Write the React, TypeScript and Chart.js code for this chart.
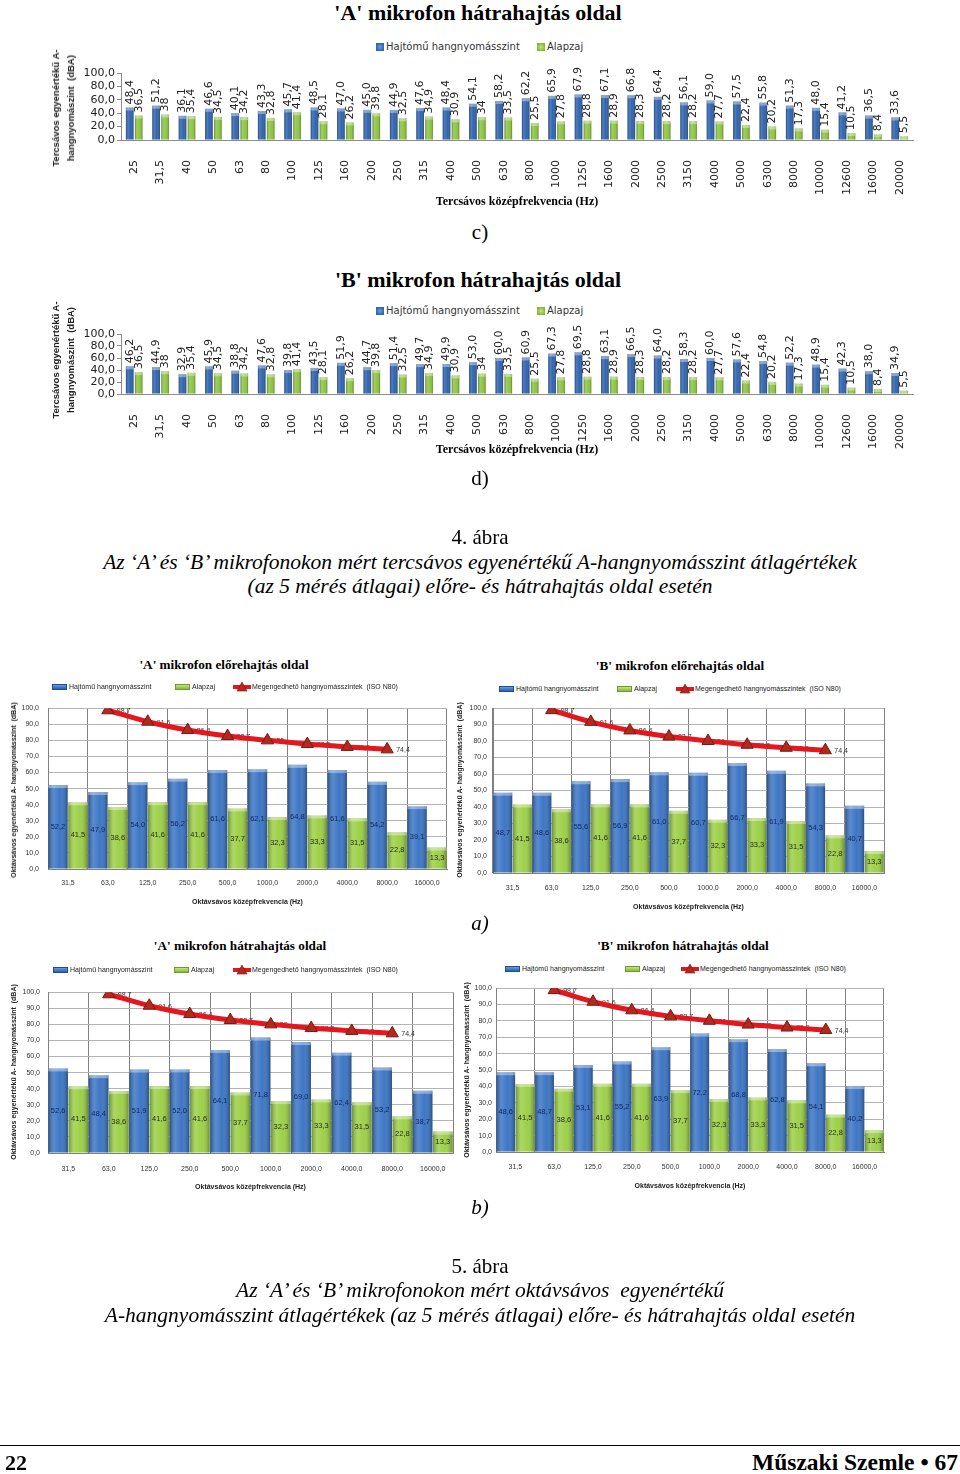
import React, { useEffect, useRef } from "react";
import { Chart, registerables } from "chart.js";

Chart.register(...registerables);

// ---------- data ----------
const thirdOctaveBands = ["25", "31,5", "40", "50", "63", "80", "100", "125", "160", "200", "250", "315", "400", "500", "630", "800", "1000", "1250", "1600", "2000", "2500", "3150", "4000", "5000", "6300", "8000", "10000", "12600", "16000", "20000"];
const thirdAEngine = [48.4, 51.2, 36.1, 46.6, 40.1, 43.3, 45.7, 48.5, 47.0, 45.0, 44.9, 47.6, 48.4, 54.1, 58.2, 62.2, 65.9, 67.9, 67.1, 66.8, 64.4, 56.1, 59.0, 57.5, 55.8, 51.3, 48.0, 41.2, 36.5, 33.6];
const thirdBEngine = [46.2, 44.9, 32.9, 45.9, 38.8, 47.6, 39.8, 43.5, 51.9, 44.7, 51.4, 49.7, 49.9, 53.0, 60.0, 60.9, 67.3, 69.5, 63.1, 66.5, 64.0, 58.3, 60.0, 57.6, 54.8, 52.2, 48.9, 42.3, 38.0, 34.9];
const thirdBackground = [36.5, 38, 35.4, 34.5, 34.2, 32.8, 41.4, 28.1, 26.2, 39.8, 32.5, 34.9, 30.9, 34, 33.5, 25.5, 27.8, 28.8, 28.9, 28.3, 28.2, 28.2, 27.7, 22.4, 20.2, 17.3, 15.4, 10.5, 8.4, 5.5];
const thirdYTicks = [0, 20, 40, 60, 80, 100];

const octaveBands = ["31,5", "63,0", "125,0", "250,0", "500,0", "1000,0", "2000,0", "4000,0", "8000,0", "16000,0"];
const octAFrontEngine = [52.2, 47.9, 54.0, 56.2, 61.6, 62.1, 64.8, 61.6, 54.2, 39.1];
const octBFrontEngine = [48.7, 48.6, 55.6, 56.9, 61.0, 60.7, 66.7, 61.9, 54.3, 40.7];
const octARearEngine = [52.6, 48.4, 51.9, 52.0, 64.1, 71.8, 69.0, 62.4, 53.2, 38.7];
const octBRearEngine = [48.6, 48.7, 53.1, 55.2, 63.9, 72.2, 68.8, 62.8, 54.1, 40.2];
const octaveBackground = [41.5, 38.6, 41.6, 41.6, 37.7, 32.3, 33.3, 31.5, 22.8, 13.3];
const isoN80Limit: (number | null)[] = [null, 98.7, 91.6, 86.4, 82.7, 80, 77.7, 75.9, 74.4, null];
const octaveYTicks = [0, 10, 20, 30, 40, 50, 60, 70, 80, 90, 100];

// ---------- helpers ----------
const SERIF = '"Times New Roman", "Liberation Serif", serif';
const SANS = '"Liberation Sans", Arial, sans-serif';
const VERD = '"DejaVu Sans", Verdana, sans-serif';
const fmt1 = (v: number) => v.toFixed(1).replace(".", ",");
const fmtRaw = (v: number) => String(v).replace(".", ",");

Chart.defaults.font.family = SANS;

function drawLabels(chart: any, below: boolean) {
  const ctx = chart.ctx;
  chart.data.datasets.forEach((ds: any, i: number) => {
    const spec = ds.valueLabels;
    if (!spec || !!spec.below !== below) return;
    const meta = chart.getDatasetMeta(i);
    meta.data.forEach((el: any, j: number) => {
      const v = ds.data[j];
      if (v == null) return;
      const p = el.getProps(["x", "y", "base"], true);
      const text = spec.format(v);
      ctx.save();
      ctx.font = spec.font;
      ctx.fillStyle = spec.color;
      if (spec.mode === "top") {
        ctx.translate(p.x, p.y - (spec.dy ?? 3));
        ctx.rotate(-Math.PI / 2);
        ctx.textAlign = "left";
        ctx.textBaseline = "middle";
        ctx.fillText(text, 0, 0);
      } else if (spec.mode === "center") {
        ctx.textAlign = "center";
        ctx.textBaseline = "middle";
        ctx.fillText(text, p.x, (p.y + p.base) / 2);
      } else {
        ctx.textAlign = "left";
        ctx.textBaseline = "middle";
        ctx.fillText(text, p.x + (spec.dx ?? 9), p.y + (spec.dy ?? 1));
      }
      ctx.restore();
    });
  });
}

const labelPlugin = {
  id: "valueLabels",
  beforeDatasetsDraw(chart: any) {
    drawLabels(chart, true);
  },
  afterDatasetsDraw(chart: any) {
    drawLabels(chart, false);
  },
};

const shadePlugin = {
  id: "barShade",
  afterDatasetDraw(chart: any, args: any) {
    const meta = args.meta;
    if (meta.type !== "bar") return;
    const ctx = chart.ctx;
    meta.data.forEach((el: any) => {
      const { x, y, base, width } = el.getProps(["x", "y", "base", "width"], true);
      const h = base - y;
      if (!(h > 0)) return;
      const l = x - width / 2;
      const g = ctx.createLinearGradient(l, 0, l + width, 0);
      g.addColorStop(0, "rgba(0,0,0,0.30)");
      g.addColorStop(0.28, "rgba(255,255,255,0.16)");
      g.addColorStop(0.6, "rgba(255,255,255,0.02)");
      g.addColorStop(1, "rgba(0,0,0,0.32)");
      ctx.save();
      ctx.fillStyle = g;
      ctx.fillRect(l, y, width, h);
      ctx.fillStyle = "rgba(255,255,255,0.38)";
      ctx.fillRect(l, y, width, Math.min(3, h));
      ctx.restore();
    });
  },
};

function thirdOctaveConfig(engine: number[], xTitlePad: number): any {
  return {
    type: "bar",
    data: {
      labels: thirdOctaveBands,
      datasets: [
        {
          label: "Hajtómű hangnyomásszint",
          data: engine,
          backgroundColor: "#2d62ae",
          categoryPercentage: 0.68,
          barPercentage: 0.85,
          valueLabels: { mode: "top", format: fmt1, font: `11px ${VERD}`, color: "#222", dy: 3 },
        },
        {
          label: "Alapzaj",
          data: thirdBackground,
          backgroundColor: "#8dc540",
          categoryPercentage: 0.68,
          barPercentage: 0.85,
          valueLabels: { mode: "top", format: fmtRaw, font: `11px ${VERD}`, color: "#222", dy: 3 },
        },
      ],
    },
    options: {
      responsive: false,
      animation: false,
      layout: { padding: { top: 11, right: 17, bottom: 0, left: 0 } },
      plugins: { legend: { display: false }, tooltip: { enabled: false }, title: { display: false } },
      scales: {
        x: {
          grid: { display: false },
          border: { display: true, color: "#8c8c8c" },
          ticks: {
            autoSkip: false,
            minRotation: 90,
            maxRotation: 90,
            padding: 12,
            color: "#222",
            font: { family: VERD, size: 11 },
          },
          title: {
            display: true,
            text: "Tercsávos középfrekvencia (Hz)",
            color: "#000",
            font: { family: SERIF, size: 12, weight: "bold" },
            padding: { top: 0, bottom: xTitlePad },
          },
          afterFit: (s: any) => {
            s.height = 74;
          },
        },
        y: {
          min: 0,
          max: 100,
          afterBuildTicks: (s: any) => {
            s.ticks = thirdYTicks.map((v) => ({ value: v }));
          },
          grid: { display: true, drawOnChartArea: false, drawTicks: true, tickLength: 4, color: "#8c8c8c" },
          border: { display: true, color: "#8c8c8c" },
          ticks: {
            autoSkip: false,
            padding: 2,
            color: "#222",
            font: { family: VERD, size: 11 },
            callback: (v: any) => fmt1(Number(v)),
          },
          title: { display: false },
          afterFit: (s: any) => {
            s.width = 81;
          },
        },
      },
    },
    plugins: [shadePlugin, labelPlugin],
  };
}

function octaveConfig(
  engine: number[],
  g: { yWidth: number; yTickPad: number; xTickPad: number; xTitlePad: number; padRight: number }
): any {
  return {
    type: "bar",
    data: {
      labels: octaveBands,
      datasets: [
        {
          type: "line",
          label: "Megengedhető hangnyomásszintek  (ISO N80)",
          data: isoN80Limit,
          order: 0,
          borderColor: "#e3171e",
          borderWidth: 5,
          cubicInterpolationMode: "monotone",
          pointStyle: "triangle",
          pointRadius: 7,
          pointBackgroundColor: "#b3281f",
          pointBorderColor: "#7a1a12",
          pointBorderWidth: 1,
          spanGaps: false,
          valueLabels: { mode: "right", format: fmtRaw, font: `7px ${SANS}`, color: "#333", dx: 9, dy: 1, below: true },
        },
        {
          label: "Hajtómű hangnyomásszint",
          data: engine,
          order: 1,
          backgroundColor: "#3a74c4",
          categoryPercentage: 1,
          barPercentage: 0.97,
          valueLabels: { mode: "center", format: fmt1, font: `7.5px ${SANS}`, color: "#0d2a66" },
        },
        {
          label: "Alapzaj",
          data: octaveBackground,
          order: 1,
          backgroundColor: "#9ccf46",
          categoryPercentage: 1,
          barPercentage: 0.97,
          valueLabels: { mode: "center", format: fmt1, font: `7.5px ${SANS}`, color: "#1f2a12" },
        },
      ],
    },
    options: {
      responsive: false,
      animation: false,
      layout: { padding: { top: 11, right: g.padRight, bottom: 0, left: 0 } },
      plugins: { legend: { display: false }, tooltip: { enabled: false }, title: { display: false } },
      scales: {
        x: {
          grid: { display: true, offset: true, drawTicks: false, color: "#808080" },
          border: { display: true, color: "#808080" },
          ticks: {
            autoSkip: false,
            maxRotation: 0,
            padding: g.xTickPad,
            color: "#333",
            font: { family: SANS, size: 7 },
          },
          title: {
            display: true,
            text: "Oktávsávos középfrekvencia (Hz)",
            color: "#222",
            font: { family: SANS, size: 7, weight: "bold" },
            padding: { top: 0, bottom: g.xTitlePad },
          },
          afterFit: (s: any) => {
            s.height = 40;
          },
        },
        y: {
          min: 0,
          max: 100,
          afterBuildTicks: (s: any) => {
            s.ticks = octaveYTicks.map((v) => ({ value: v }));
          },
          grid: { display: true, drawTicks: false, color: "#b4b4b4" },
          border: { display: true, color: "#808080" },
          ticks: {
            autoSkip: false,
            padding: g.yTickPad,
            color: "#333",
            font: { family: SANS, size: 7 },
            callback: (v: any) => fmt1(Number(v)),
          },
          title: { display: false },
          afterFit: (s: any) => {
            s.width = g.yWidth;
          },
        },
      },
    },
    plugins: [shadePlugin, labelPlugin],
  };
}

// ---------- components ----------
function ChartBox(props: { left: number; top: number; width: number; height: number; make: () => any }) {
  const ref = useRef<HTMLCanvasElement>(null);
  useEffect(() => {
    const chart = new Chart(ref.current as HTMLCanvasElement, props.make());
    return () => chart.destroy();
  }, []);
  return (
    <div style={{ position: "absolute", left: props.left, top: props.top, width: props.width, height: props.height }}>
      <canvas ref={ref} width={props.width} height={props.height} style={{ display: "block" }} />
    </div>
  );
}

function Txt(props: {
  x: number;
  y: number;
  size: number;
  children: any;
  align?: "center" | "left" | "right";
  bold?: boolean;
  italic?: boolean;
  family?: string;
  color?: string;
  rotate?: boolean;
  lineHeight?: string | number;
}) {
  const align = props.align ?? "center";
  const tx = align === "center" ? "-50%" : align === "right" ? "-100%" : "0";
  return (
    <div
      style={{
        position: "absolute",
        left: props.x,
        top: props.y,
        transform: `translate(${tx}, -50%)${props.rotate ? " rotate(-90deg)" : ""}`,
        fontSize: props.size,
        lineHeight: props.lineHeight ?? 1.15,
        fontWeight: props.bold ? "bold" : "normal",
        fontStyle: props.italic ? "italic" : "normal",
        fontFamily: props.family ?? SERIF,
        color: props.color ?? "#000",
        whiteSpace: "pre",
        textAlign: "center",
      }}
    >
      {props.children}
    </div>
  );
}

function TopLegend(props: { y: number }) {
  const sq = (x: number, c1: string, c2: string) => (
    <div
      style={{
        position: "absolute",
        left: x,
        top: props.y - 4,
        width: 8,
        height: 8,
        background: `radial-gradient(circle, ${c2} 0%, ${c1} 75%)`,
      }}
    />
  );
  return (
    <>
      {sq(376, "#2d62ae", "#6c9be0")}
      <Txt x={386} y={props.y} size={10} align="left" family={VERD} color="#333">
        Hajtómű hangnyomásszint
      </Txt>
      {sq(537, "#7fb634", "#c4e78a")}
      <Txt x={547} y={props.y} size={10} align="left" family={VERD} color="#333">
        Alapzaj
      </Txt>
    </>
  );
}

function OctLegend(props: { y: number; bx: number; gx: number; rx: number }) {
  const box = (x: number, c1: string, c2: string, b: string) => (
    <div
      style={{
        position: "absolute",
        left: x,
        top: props.y - 3,
        width: 15,
        height: 6,
        boxSizing: "border-box",
        border: `1px solid ${b}`,
        background: `linear-gradient(${c2}, ${c1})`,
      }}
    />
  );
  return (
    <>
      {box(props.bx, "#2a5ea8", "#6b9be0", "#1f4f93")}
      <Txt x={props.bx + 17} y={props.y} size={7} align="left" family={SANS} color="#222">
        Hajtómű hangnyomásszint
      </Txt>
      {box(props.gx, "#86b93a", "#c2e67f", "#6f9b2c")}
      <Txt x={props.gx + 17} y={props.y} size={7} align="left" family={SANS} color="#222">
        Alapzaj
      </Txt>
      <svg
        style={{ position: "absolute", left: props.rx, top: props.y - 5 }}
        width={18}
        height={10}
        viewBox="0 0 18 10"
      >
        <line x1={0} y1={5} x2={18} y2={5} stroke="#e3171e" strokeWidth={4} />
        <polygon points="9,0 14,9 4,9" fill="#b3281f" stroke="#7a1a12" strokeWidth={0.6} />
      </svg>
      <Txt x={props.rx + 19} y={props.y} size={7} align="left" family={SANS} color="#222">
        Megengedhető hangnyomásszintek  (ISO N80)
      </Txt>
    </>
  );
}

const TOP_Y_TITLE = "Tercsávos egyenértékű A-\nhangnyomászint  (dBA)";
const OCT_Y_TITLE = "Oktávsávos egyenértékű A- hangnyomásszint  (dBA)";

export default function App() {
  return (
    <div
      style={{
        position: "absolute",
        left: 0,
        top: 0,
        width: 960,
        height: 1474,
        background: "#fff",
        overflow: "hidden",
      }}
    >
      {/* ---- 4. ábra, c) ---- */}
      <Txt x={478} y={13} size={22} bold>
        'A' mikrofon hátrahajtás oldal
      </Txt>
      <TopLegend y={47} />
      <ChartBox left={40} top={62} width={890} height={152} make={() => thirdOctaveConfig(thirdAEngine, 4.8)} />
      <Txt x={62.5} y={108} size={9.5} bold family={SANS} color="#222" rotate lineHeight="15px">
        {TOP_Y_TITLE}
      </Txt>
      <Txt x={480} y={232} size={21}>
        c)
      </Txt>

      {/* ---- d) ---- */}
      <Txt x={478} y={280} size={22} bold>
        'B' mikrofon hátrahajtás oldal
      </Txt>
      <TopLegend y={311} />
      <ChartBox left={40} top={323} width={890} height={145} make={() => thirdOctaveConfig(thirdBEngine, 10.8)} />
      <Txt x={62.5} y={360} size={9.5} bold family={SANS} color="#222" rotate lineHeight="15px">
        {TOP_Y_TITLE}
      </Txt>
      <Txt x={480} y={478} size={21}>
        d)
      </Txt>

      <Txt x={480} y={537} size={21}>
        4. ábra
      </Txt>
      <Txt x={480} y={562} size={21.5} italic>
        Az ‘A’ és ‘B’ mikrofonokon mért tercsávos egyenértékű A-hangnyomásszint átlagértékek
      </Txt>
      <Txt x={480} y={586} size={21.5} italic>
        (az 5 mérés átlagai) előre- és hátrahajtás oldal esetén
      </Txt>

      {/* ---- 5. ábra a) ---- */}
      <Txt x={224} y={665} size={13.2} bold>
        'A' mikrofon előrehajtás oldal
      </Txt>
      <OctLegend y={687} bx={52} gx={175} rx={233} />
      <ChartBox
        left={0}
        top={695}
        width={460}
        height={214}
        make={() => octaveConfig(octAFrontEngine, { yWidth: 48, yTickPad: 9, xTickPad: 10, xTitlePad: 2.8, padRight: 13 })}
      />
      <Txt x={14} y={790} size={7} bold family={SANS} color="#222" rotate>
        {OCT_Y_TITLE}
      </Txt>

      <Txt x={680} y={666} size={13.2} bold>
        'B' mikrofon előrehajtás oldal
      </Txt>
      <OctLegend y={689} bx={499} gx={617} rx={676} />
      <ChartBox
        left={450}
        top={697}
        width={450}
        height={216}
        make={() => octaveConfig(octBFrontEngine, { yWidth: 43, yTickPad: 6, xTickPad: 11, xTitlePad: 1.8, padRight: 16 })}
      />
      <Txt x={460} y={790} size={7} bold family={SANS} color="#222" rotate>
        {OCT_Y_TITLE}
      </Txt>
      <Txt x={480} y={923} size={21} italic>
        a)
      </Txt>

      {/* ---- b) ---- */}
      <Txt x={240} y={946} size={13.2} bold>
        'A' mikrofon hátrahajtás oldal
      </Txt>
      <OctLegend y={970} bx={53} gx={174} rx={233} />
      <ChartBox
        left={0}
        top={980}
        width={466}
        height={213}
        make={() => octaveConfig(octARearEngine, { yWidth: 48, yTickPad: 8, xTickPad: 12, xTitlePad: 1.8, padRight: 13 })}
      />
      <Txt x={14} y={1072} size={7} bold family={SANS} color="#222" rotate>
        {OCT_Y_TITLE}
      </Txt>

      <Txt x={683} y={946} size={13.2} bold>
        'B' mikrofon hátrahajtás oldal
      </Txt>
      <OctLegend y={969} bx={505} gx={625} rx={681} />
      <ChartBox
        left={455}
        top={977}
        width={445}
        height={215}
        make={() => octaveConfig(octBRearEngine, { yWidth: 41, yTickPad: 4, xTickPad: 11, xTitlePad: 1.8, padRight: 16 })}
      />
      <Txt x={467} y={1070} size={7} bold family={SANS} color="#222" rotate>
        {OCT_Y_TITLE}
      </Txt>
      <Txt x={480} y={1207} size={21} italic>
        b)
      </Txt>

      <Txt x={480} y={1266} size={21}>
        5. ábra
      </Txt>
      <Txt x={480} y={1290} size={21.5} italic>
        Az ‘A’ és ‘B’ mikrofonokon mért oktávsávos  egyenértékű
      </Txt>
      <Txt x={480} y={1315} size={21.5} italic>
        A-hangnyomásszint átlagértékek (az 5 mérés átlagai) előre- és hátrahajtás oldal esetén
      </Txt>

      {/* ---- footer ---- */}
      <div style={{ position: "absolute", left: 0, top: 1445, width: 960, height: 1, background: "#000" }} />
      <Txt x={5} y={1463} size={22} bold align="left">
        22
      </Txt>
      <Txt x={958} y={1463} size={23.5} bold align="right">
        Műszaki Szemle • 67
      </Txt>
    </div>
  );
}
